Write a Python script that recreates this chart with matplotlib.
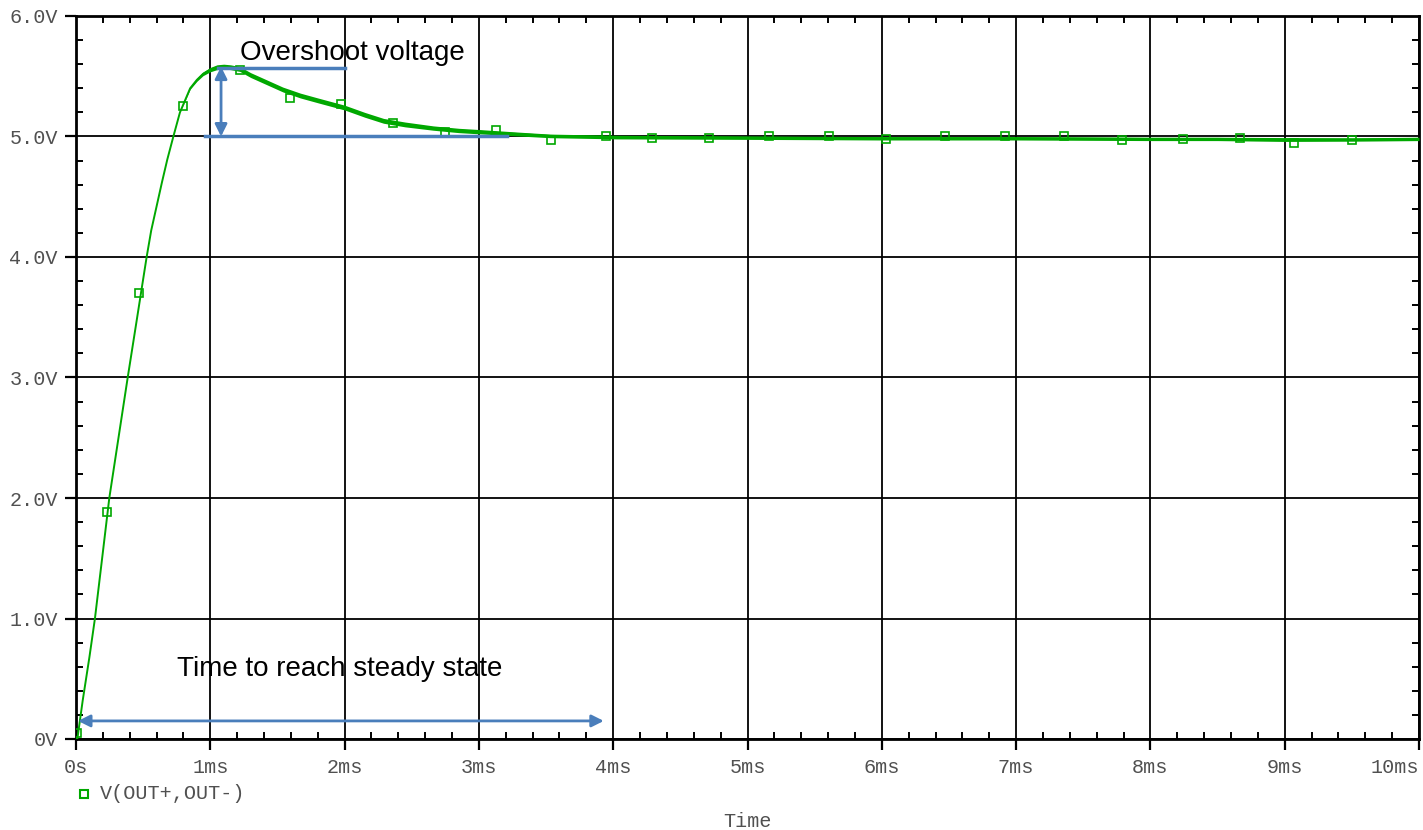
import matplotlib
matplotlib.use("Agg")
import matplotlib.pyplot as plt
from matplotlib.lines import Line2D
from matplotlib.ticker import MultipleLocator

# trace V(OUT+,OUT-) (time in ms, volts)
t_ms = [0.0, 0.01, 0.05, 0.1, 0.141, 0.2, 0.248, 0.3, 0.385, 0.45, 0.526, 0.56,
        0.6, 0.64, 0.68, 0.725, 0.774, 0.85, 0.90, 0.946, 1.0, 1.05, 1.1, 1.15,
        1.22, 1.3, 1.42, 1.54, 1.67, 1.8, 2.0, 2.15, 2.29, 2.45, 2.66, 2.85,
        3.0, 3.3, 3.53, 4.03, 5.0, 6.0, 7.0, 8.0, 8.5, 9.0, 9.5, 10.0]
v_out = [0.0, 0.0, 0.32, 0.68, 1.0, 1.55, 2.0, 2.38, 3.0, 3.46, 4.0, 4.22,
         4.42, 4.62, 4.81, 5.0, 5.2, 5.4, 5.47, 5.52, 5.555, 5.575, 5.58, 5.575,
         5.56, 5.51, 5.45, 5.39, 5.34, 5.30, 5.24, 5.18, 5.13, 5.10, 5.07, 5.05,
         5.04, 5.02, 5.005, 4.995, 4.99, 4.985, 4.985, 4.98, 4.98, 4.975, 4.975, 4.98]
# half width of the ripple band around the trace
ripple = [0, 0, 0, 0, 0, 0, 0, 0, 0, 0, 0, 0,
          0, 0, 0, 0, 0, 0.008, 0.012, 0.015, 0.018, 0.02, 0.02, 0.02,
          0.02, 0.02, 0.02, 0.02, 0.02, 0.02, 0.02, 0.02, 0.02, 0.02, 0.018, 0.018,
          0.018, 0.016, 0.015, 0.015, 0.014, 0.014, 0.014, 0.014, 0.014, 0.016, 0.014, 0.014]

# trace markers
mark_t = [0.007, 0.23, 0.47, 0.80, 1.22, 1.59, 1.97, 2.36, 2.75, 3.13, 3.54, 3.95,
          4.29, 4.71, 5.16, 5.61, 6.03, 6.47, 6.92, 7.36, 7.79, 8.24, 8.67, 9.07, 9.50]
mark_v = [0.05, 1.88, 3.70, 5.25, 5.55, 5.32, 5.27, 5.11, 5.04, 5.05, 4.97, 5.00,
          4.99, 4.99, 5.00, 5.00, 4.98, 5.00, 5.00, 5.00, 4.97, 4.98, 4.99, 4.95, 4.97]

x_ticks = [0, 1, 2, 3, 4, 5, 6, 7, 8, 9, 10]
x_labels = ["0s", "1ms", "2ms", "3ms", "4ms", "5ms", "6ms", "7ms", "8ms", "9ms", "10ms"]
y_ticks = [0, 1, 2, 3, 4, 5, 6]
y_labels = ["0V", "1.0V", "2.0V", "3.0V", "4.0V", "5.0V", "6.0V"]

green = "#00a800"
blue = "#4a7ebb"
mono = "Liberation Mono"
lab_col = "#505050"

fig = plt.figure(figsize=(14.23, 8.30), dpi=100)
ax = fig.add_axes([76 / 1423, 1 - 739 / 830, (1419 - 76) / 1423, (739 - 16) / 830])

lo = [v - r for v, r in zip(v_out, ripple)]
hi = [v + r for v, r in zip(v_out, ripple)]
ax.fill_between(t_ms, lo, hi, color=green, lw=0, zorder=3)
ax.plot(t_ms, v_out, color=green, lw=1.4, zorder=4)
ax.plot(mark_t, mark_v, ls="none", marker="s", ms=6, mfc="none", mec=green, mew=1.2, zorder=4)

ax.set_xlim(0, 10)
ax.set_ylim(0, 6)
ax.set_xticks(x_ticks)
ax.set_xticklabels(x_labels)
ax.set_yticks(y_ticks)
ax.set_yticklabels(y_labels)
ax.xaxis.set_minor_locator(MultipleLocator(0.2))
ax.yaxis.set_minor_locator(MultipleLocator(0.2))
ax.grid(True, which="major", color="black", lw=1.3)
ax.set_axisbelow(True)
for s in ax.spines.values():
    s.set_linewidth(2)
ax.tick_params(which="major", direction="out", length=8, width=1.6,
               labelsize=14.5, labelcolor=lab_col)
ax.tick_params(axis="x", which="major", pad=6)
ax.tick_params(axis="y", which="major", pad=5)
ax.tick_params(which="minor", direction="in", length=5, width=1.4,
               top=True, right=True)
for lab in ax.get_xticklabels() + ax.get_yticklabels():
    lab.set_family(mono)
ax.get_xticklabels()[-1].set_ha("right")

# annotations
ax.plot([0.96, 3.21], [5.0, 5.0], color=blue, lw=2.5, zorder=5)
ax.plot([1.06, 2.0], [5.57, 5.57], color=blue, lw=2.5, zorder=5)
ax.annotate("", xy=(1.08, 5.58), xytext=(1.08, 5.0),
            arrowprops=dict(arrowstyle="<|-|>", color=blue, lw=2,
                            mutation_scale=18, shrinkA=0, shrinkB=0), zorder=6)
ax.annotate("", xy=(0.015, 0.15), xytext=(3.93, 0.15),
            arrowprops=dict(arrowstyle="<|-|>", color=blue, lw=2,
                            mutation_scale=18, shrinkA=0, shrinkB=0), zorder=6)
ax.text(1.22, 5.69, "Overshoot voltage", fontsize=20, family="Liberation Sans",
        va="center", ha="left", zorder=7)
ax.text(0.75, 0.58, "Time to reach steady state", fontsize=20, family="Liberation Sans",
        va="center", ha="left", zorder=7)

# legend and axis title
fig.add_artist(Line2D([84 / 1423], [1 - 794 / 830], marker="s", ms=6, mfc="none",
                      mec=green, mew=1.5, ls="none"))
fig.text(100 / 1423, 1 - 793 / 830, "V(OUT+,OUT-)", family=mono, fontsize=14.5,
         color=lab_col, va="center", ha="left")
fig.text(748 / 1423, 1 - 821 / 830, "Time", family=mono, fontsize=14.5,
         color=lab_col, va="center", ha="center")

fig.savefig("out.png", dpi=100)
